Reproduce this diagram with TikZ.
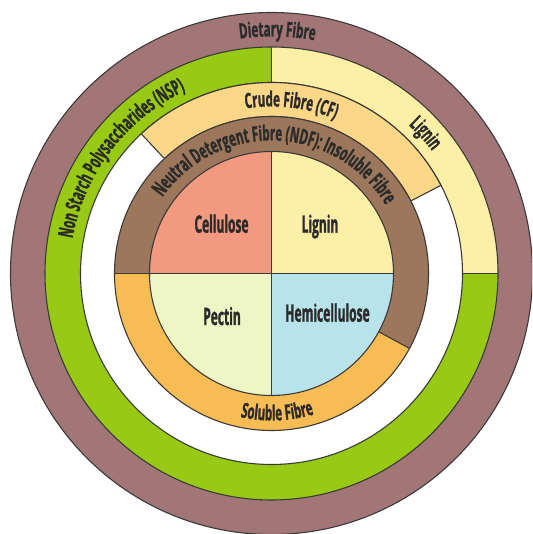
\documentclass[tikz,border=0pt]{standalone}
\usepackage{fontspec}
\usetikzlibrary{decorations.text}
\newfontfamily\arcfam{Open Sans}[FakeStretch=0.55,FakeBold=1.2]
\newfontfamily\ctrfam{Open Sans}[FakeStretch=0.5,FakeBold=1.2]
\newcommand\arcfont{\arcfam\bfseries\fontsize{21}{21}\selectfont}
\newcommand\ctrfont{\ctrfam\bfseries\fontsize{24}{24}\selectfont}
\definecolor{outerbrown}{HTML}{A27676}
\definecolor{nspgreen}{HTML}{98C915}
\definecolor{lightyel}{HTML}{FDF0A6}
\definecolor{cforange}{HTML}{FDD788}
\definecolor{ndfbrown}{HTML}{9C775B}
\definecolor{solorange}{HTML}{F8BC54}
\definecolor{cellred}{HTML}{F29A7F}
\definecolor{pectgreen}{HTML}{EEF6C6}
\definecolor{hemiblue}{HTML}{B8E3EB}
\definecolor{ink}{HTML}{2B2B2B}
\definecolor{edge}{HTML}{3A3A3A}
\tikzset{
  edgeline/.style={draw=edge, line width=1.1pt},
  lbl/.style={font=\ctrfont, text=ink, anchor=base, inner sep=0pt},
  arctext/.style={decorate, decoration={text along path, text align=center, text color=ink, text={|\arcfont|#1}}}
}
\begin{document}
\begin{tikzpicture}[x=1pt,y=1pt,line join=round]
\useasboundingbox (0,0) rectangle (532,534);
\clip (0,0) rectangle (532,534);
\begin{scope}[shift={(271.5,260.5)}]
  % outer dietary fibre ring
  \fill[outerbrown] (0,0) circle[radius=261];
  \draw[edgeline] (0,0) circle[radius=261];
  % NSP green and lignin yellow ring
  \fill[nspgreen] (0,0) circle[radius=226.5];
  \fill[lightyel] (0,0) -- (0:226.5) arc[start angle=0, end angle=90, radius=226.5] -- cycle;
  \fill[white] (0,0) circle[radius=191];
  \draw[edgeline] (0,0) circle[radius=226.5];
  \draw[edgeline] (0,0) circle[radius=191];
  \draw[edgeline] (0:191) -- (0:226.5);
  \draw[edgeline] (90:191) -- (90:226.5);
  % crude fibre segment
  \filldraw[fill=cforange, edgeline] (27.5:191) arc[start angle=27.5, end angle=133, radius=191]
     -- (133:157) arc[start angle=133, end angle=27.5, radius=157] -- cycle;
  % NDF / soluble ring
  \fill[ndfbrown] (0,0) circle[radius=157];
  \fill[solorange] (0,0) -- (180:157) arc[start angle=180, end angle=331.5, radius=157] -- cycle;
  \draw[edgeline] (0,0) circle[radius=157];
  \draw[edgeline] (180:122) -- (180:157);
  \draw[edgeline] (331.5:122) -- (331.5:157);
  % inner quadrants
  \fill[cellred] (0,0) -- (90:122) arc[start angle=90, end angle=180, radius=122] -- cycle;
  \fill[lightyel] (0,0) -- (0:122) arc[start angle=0, end angle=90, radius=122] -- cycle;
  \fill[pectgreen] (0,0) -- (180:122) arc[start angle=180, end angle=270, radius=122] -- cycle;
  \fill[hemiblue] (0,0) -- (270:122) arc[start angle=270, end angle=360, radius=122] -- cycle;
  \draw[edgeline] (0,0) circle[radius=122];
  \draw[edgeline] (180:122) -- (0:122);
  \draw[edgeline] (90:122) -- (270:122);
  % center labels
  \node[lbl] (cell) at (-50,40.8) {Cellulose};
  \node[lbl] (lig) at (48.5,40.8) {Lignin};
  \node[lbl] (pec) at (-49.5,-51.5) {Pectin};
  \node[lbl] (hemi) at (56,-48.2) {Hemicellulose};
  % arc labels
  \path[arctext={Dietary Fibre}] (158.6:237) arc[start angle=158.6, end angle=18.6, radius=237];
  \path[arctext={Non Starch Polysaccharides (NSP)}] (202.6:202) arc[start angle=202.6, end angle=82.6, radius=202];
  \path[arctext={Lignin}] (82.3:202) arc[start angle=82.3, end angle=2.3, radius=202];
  \path[arctext={Crude Fibre (CF)}] (143.3:167) arc[start angle=143.3, end angle=23.3, radius=167];
  \path[arctext={Neutral Detergent Fibre (NDF): Insoluble Fibre}] (178:133) arc[start angle=178, end angle=-2, radius=133];
  \path[arctext={Soluble Fibre}] (-147.7:147) arc[start angle=-147.7, end angle=-27.7, radius=147];
\end{scope}
\end{tikzpicture}
\end{document}
